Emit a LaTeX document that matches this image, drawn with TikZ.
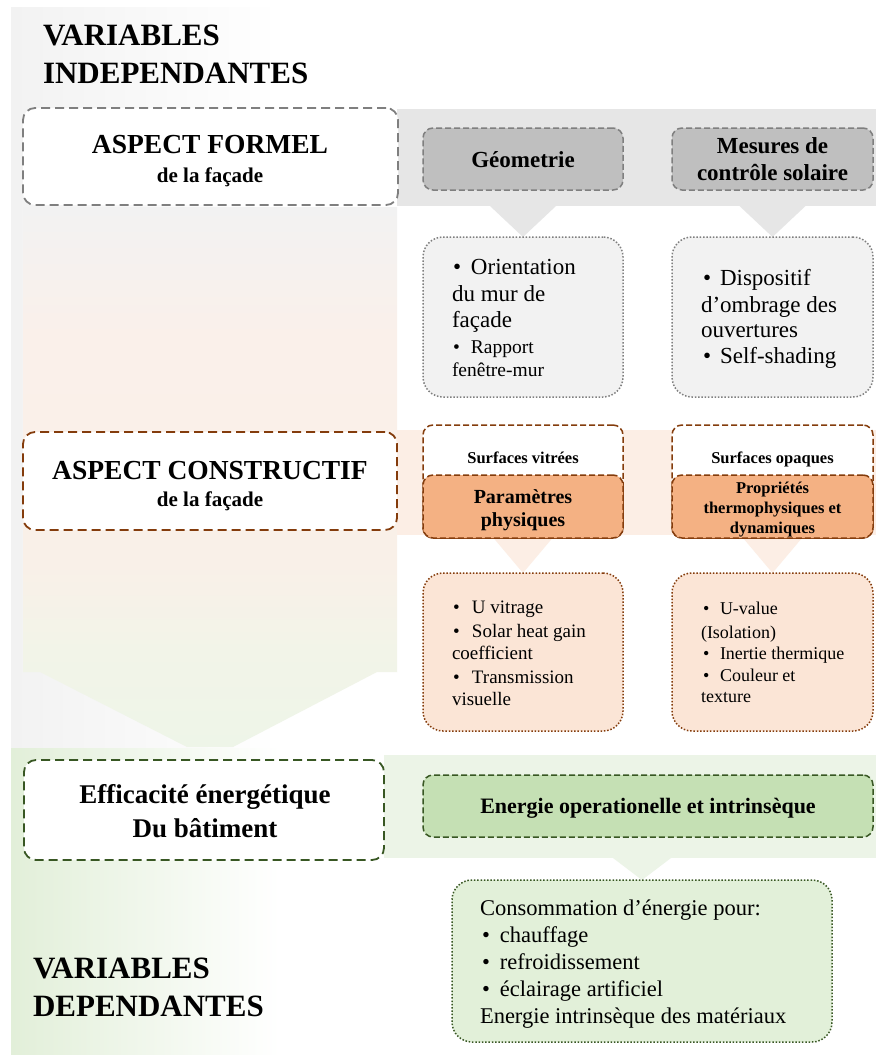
\documentclass[tikz,border=0pt]{standalone}
\usepackage{fontspec}
\setmainfont{Liberation Serif}
\usetikzlibrary{calc}
\pgfdeclarelayer{background}
\pgfsetlayers{background,main}
\definecolor{graydash}{HTML}{7F7F7F}
\definecolor{grayfill}{HTML}{BFBFBF}
\definecolor{grayband}{HTML}{E6E6E6}
\definecolor{graylight}{HTML}{F2F2F2}
\definecolor{browndash}{HTML}{843C0C}
\definecolor{peachfill}{HTML}{F4B183}
\definecolor{peachlight}{HTML}{FBE5D6}
\definecolor{peachband}{HTML}{FCEEE5}
\definecolor{peachpanel}{HTML}{FAF0EA}
\definecolor{peachpanelb}{HTML}{F9F0E8}
\definecolor{greenishpanel}{HTML}{F2F4E8}
\definecolor{greenpanelb}{HTML}{EEF5E8}
\definecolor{greendash}{HTML}{385723}
\definecolor{greenfill}{HTML}{C5E0B4}
\definecolor{greenlight}{HTML}{E2F0D9}
\definecolor{greenband}{HTML}{ECF4E7}
\definecolor{greenpanel}{HTML}{E2EFD9}
\pgfdeclareverticalshading{peachcolumn}{100bp}{%
  color(0bp)=(greenpanelb); color(25bp)=(greenpanelb);
  color(34bp)=(greenishpanel); color(42bp)=(peachpanelb);
  color(63bp)=(peachpanel); color(75bp)=(graylight); color(100bp)=(graylight)}
\newcommand{\fs}[2]{\fontsize{#1}{#2}\selectfont}
\newcommand{\bul}[1]{\makebox[#1][l]{\textbullet}}
\begin{document}
\begin{tikzpicture}[x=1pt,y=-1pt,
  box/.style={rectangle, inner sep=0pt, outer sep=0pt},
  graybig/.style={box, draw=graydash, fill=white, line width=1.8pt, dash pattern=on 9pt off 5pt, rounded corners=12pt},
  graysmall/.style={box, draw=graydash, fill=grayfill, line width=1.5pt, dash pattern=on 6pt off 3pt, rounded corners=10pt},
  graylist/.style={box, draw=graydash, fill=graylight, line width=1.5pt, dash pattern=on 1.5pt off 1.8pt, rounded corners=20pt},
  brownbig/.style={box, draw=browndash, fill=white, line width=1.8pt, dash pattern=on 9pt off 5pt, rounded corners=12pt},
  brownsmall/.style={box, draw=browndash, line width=1.5pt, dash pattern=on 6pt off 3pt, rounded corners=10pt},
  brownlist/.style={box, draw=browndash, fill=peachlight, line width=1.5pt, dash pattern=on 1.5pt off 1.8pt, rounded corners=20pt},
  greenbig/.style={box, draw=greendash, fill=white, line width=1.8pt, dash pattern=on 9pt off 5pt, rounded corners=12pt},
  greensmall/.style={box, draw=greendash, fill=greenfill, line width=1.5pt, dash pattern=on 6pt off 3pt, rounded corners=10pt},
  greenlist/.style={box, draw=greendash, fill=greenlight, line width=1.5pt, dash pattern=on 1.5pt off 1.8pt, rounded corners=20pt},
  txt/.style={inner sep=0pt, outer sep=0pt},
  lft/.style={txt, anchor=base west},
  ctr/.style={txt, anchor=base}
]
\useasboundingbox (0,0) rectangle (876,1057);

\begin{pgfonlayer}{background}
  \fill[white] (0,0) rectangle (876,1057);
  % left gray column
  \shade[left color=graylight, right color=white] (11,8) rectangle (280,747);
  % gray band
  \fill[grayband] (397,109) rectangle (876,206);
  % peach column with arrow
  \shade[shading=peachcolumn] (23,207) -- (397,207) -- (397,672) -- (377,672) -- (233,747) -- (187,747) -- (40,672) -- (23,672) -- cycle;
  % peach band
  \fill[peachband] (397,430) rectangle (876,535);
  % green column
  \shade[left color=greenpanel, right color=white] (11,748) rectangle (280,1054);
  % green band
  \fill[greenband] (384,755) rectangle (876,858);
\end{pgfonlayer}

% titles
\node[lft, font=\fs{31}{37}\bfseries] (vi1) at (43,46) {VARIABLES};
\node[lft, font=\fs{31}{37}\bfseries] (vi2) at (43,83) {INDEPENDANTES};
\node[lft, font=\fs{31}{37}\bfseries] (vd1) at (33,978) {VARIABLES};
\node[lft, font=\fs{31}{37}\bfseries] (vd2) at (33,1016) {DEPENDANTES};

% level 1
\node[graybig, minimum width=375pt, minimum height=97pt] (formel) at (210.5,156.5) {};
\node[ctr, font=\fs{27.5}{32}\bfseries] (formelA) at (210,153) {ASPECT FORMEL};
\node[ctr, font=\fs{21}{25}\bfseries] (formelB) at (210,182) {de la façade};

\node[graysmall, minimum width=200pt, minimum height=62pt] (geo) at (523,159) {};
\node[ctr, font=\fs{23}{27}\bfseries] (geoT) at (523,167) {Géometrie};
\node[graysmall, minimum width=201pt, minimum height=62pt] (mes) at (772.5,159) {};
\node[ctr, font=\fs{23}{27}\bfseries] (mesA) at (772.5,153) {Mesures de};
\node[ctr, font=\fs{23}{27}\bfseries] (mesB) at (772.5,180) {contrôle solaire};

\node[graylist, minimum width=200pt, minimum height=160pt] (geolist) at (523,317) {};
\node[lft, font=\fs{23}{27}] (g1) at (453,274) {\bul{18pt}Orientation};
\node[lft, font=\fs{23}{27}] (g2) at (452,301) {du mur de};
\node[lft, font=\fs{23}{27}] (g3) at (452,327) {façade};
\node[lft, font=\fs{19.5}{23}] (g4) at (453,353) {\bul{18pt}Rapport};
\node[lft, font=\fs{19.5}{23}] (g5) at (452,376) {fenêtre-mur};

\node[graylist, minimum width=201pt, minimum height=160pt] (meslist) at (772.5,317) {};
\node[lft, font=\fs{23}{27}] (m1) at (703,285) {\bul{17pt}Dispositif};
\node[lft, font=\fs{23}{27}] (m2) at (701,312) {d’ombrage des};
\node[lft, font=\fs{23}{27}] (m3) at (701,337) {ouvertures};
\node[lft, font=\fs{23}{27}] (m4) at (703,363) {\bul{17pt}Self-shading};

% level 2
\node[brownbig, minimum width=374pt, minimum height=98pt] (constr) at (210,481) {};
\node[ctr, font=\fs{27.5}{32}\bfseries] (constrA) at (210,479) {ASPECT CONSTRUCTIF};
\node[ctr, font=\fs{21}{25}\bfseries] (constrB) at (210,506) {de la façade};

\node[brownsmall, fill=white, minimum width=200pt, minimum height=113pt] (vitr) at (523,481.5) {};
\node[brownsmall, fill=peachfill, minimum width=200pt, minimum height=63pt] (param) at (523,506.5) {};
\node[ctr, font=\fs{16.5}{20}\bfseries] (vitrT) at (523,463) {Surfaces vitrées};
\node[ctr, font=\fs{20}{24}\bfseries] (paramA) at (523,503) {Paramètres};
\node[ctr, font=\fs{20}{24}\bfseries] (paramB) at (523,526) {physiques};

\node[brownsmall, fill=white, minimum width=201pt, minimum height=113pt] (opaq) at (772.5,481.5) {};
\node[brownsmall, fill=peachfill, minimum width=201pt, minimum height=63pt] (prop) at (772.5,506.5) {};
\node[ctr, font=\fs{16.5}{20}\bfseries] (opaqT) at (772.5,463) {Surfaces opaques};
\node[ctr, font=\fs{16.5}{20}\bfseries] (propA) at (772.5,493) {Propriétés};
\node[ctr, font=\fs{16.5}{20}\bfseries] (propB) at (772.5,513) {thermophysiques et};
\node[ctr, font=\fs{16.5}{20}\bfseries] (propC) at (772.5,533) {dynamiques};

\node[brownlist, minimum width=200pt, minimum height=158pt] (vitrlist) at (523,652) {};
\node[lft, font=\fs{19}{23}] (v1) at (453,613) {\bul{19pt}U vitrage};
\node[lft, font=\fs{19}{23}] (v2) at (453,637) {\bul{19pt}Solar heat gain};
\node[lft, font=\fs{19}{23}] (v3) at (452,659) {coefficient};
\node[lft, font=\fs{19}{23}] (v4) at (453,683) {\bul{19pt}Transmission};
\node[lft, font=\fs{19}{23}] (v5) at (452,705) {visuelle};

\node[brownlist, minimum width=201pt, minimum height=158pt] (opaqlist) at (772.5,652) {};
\node[lft, font=\fs{18}{22}] (o1) at (703,614) {\bul{17pt}U-value};
\node[lft, font=\fs{18}{22}] (o2) at (701,638) {(Isolation)};
\node[lft, font=\fs{18}{22}] (o3) at (703,659) {\bul{17pt}Inertie thermique};
\node[lft, font=\fs{18}{22}] (o4) at (703,681) {\bul{17pt}Couleur et};
\node[lft, font=\fs{18}{22}] (o5) at (701,702) {texture};

% level 3
\node[greenbig, minimum width=360pt, minimum height=100pt] (effic) at (204,810) {};
\node[ctr, font=\fs{27}{32}\bfseries] (efficA) at (205,803) {Efficacité énergétique};
\node[ctr, font=\fs{27}{32}\bfseries] (efficB) at (205,837) {Du bâtiment};

\node[greensmall, minimum width=450pt, minimum height=62pt] (energ) at (648,806) {};
\node[ctr, font=\fs{22}{26}\bfseries] (energT) at (648,813) {Energie operationelle et intrinsèque};

\node[greenlist, minimum width=380pt, minimum height=162pt] (conso) at (642,961) {};
\node[lft, font=\fs{22.5}{27}] (c1) at (480,915) {Consommation d’énergie pour:};
\node[lft, font=\fs{22.5}{27}] (c2) at (482,942) {\bul{18pt}chauffage};
\node[lft, font=\fs{22.5}{27}] (c3) at (482,969) {\bul{18pt}refroidissement};
\node[lft, font=\fs{22.5}{27}] (c4) at (482,996) {\bul{18pt}éclairage artificiel};
\node[lft, font=\fs{22.5}{27}] (c5) at (480,1023) {Energie intrinsèque des matériaux};

% chevrons (connectors from bands to detail boxes)
\begin{pgfonlayer}{background}
  \fill[grayband] ($(geolist.north)+(-33,-31)$) -- ($(geolist.north)+(33,-31)$) -- (geolist.north) -- cycle;
  \fill[grayband] ($(meslist.north)+(-33,-31)$) -- ($(meslist.north)+(33,-31)$) -- (meslist.north) -- cycle;
  \fill[peachband] ($(vitrlist.north)+(-32,-38)$) -- ($(vitrlist.north)+(32,-38)$) -- (vitrlist.north) -- cycle;
  \fill[peachband] ($(opaqlist.north)+(-32,-38)$) -- ($(opaqlist.north)+(32,-38)$) -- (opaqlist.north) -- cycle;
  \fill[greenband] ($(conso.north)+(-29,-22)$) -- ($(conso.north)+(29,-22)$) -- (conso.north) -- cycle;
\end{pgfonlayer}
\end{tikzpicture}
\end{document}
